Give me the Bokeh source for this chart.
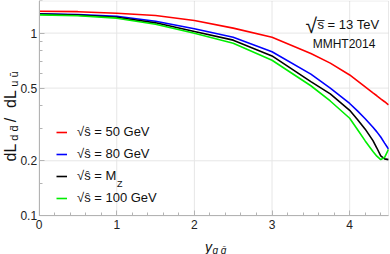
import numpy as np
from bokeh.plotting import figure
from bokeh.models import (Range1d, FixedTicker, Legend, LegendItem, Label,
                          NumeralTickFormatter, BoxAnnotation)
from bokeh.embed import file_html
from bokeh.resources import INLINE

# ---------------- data ----------------
y_rap = [0, 0.5, 1, 1.5, 2, 2.5, 3, 3.5, 3.75, 4, 4.1, 4.2, 4.3, 4.35, 4.4, 4.45, 4.5]
ratio_50 = [1.318, 1.31, 1.285, 1.248, 1.172, 1.065, 0.948, 0.773, 0.685, 0.59,
            0.548, 0.508, 0.471, 0.454, 0.437, 0.421, 0.405]
ratio_80 = [1.275, 1.265, 1.237, 1.162, 1.056, 0.948, 0.79, 0.596, 0.50, 0.412,
            0.375, 0.34, 0.305, 0.288, 0.27, 0.25, 0.232]
ratio_mz = [1.27, 1.255, 1.222, 1.138, 1.02, 0.915, 0.75, 0.543, 0.465, 0.378,
            0.337, 0.298, 0.258, 0.235, 0.213, 0.205, 0.203]
ratio_100 = [1.259, 1.245, 1.207, 1.119, 0.999, 0.88, 0.71, 0.515, 0.425, 0.342,
             0.297, 0.257, 0.225, 0.212, 0.203, 0.209, 0.231]

series_labels = ["√ŝ = 50 GeV", "√ŝ = 80 GeV", "√ŝ = M", "√ŝ = 100 GeV"]
series_colors = ["#ff0000", "#0000ff", "#000000", "#00ee00"]

x_major_ticks = [0, 1, 2, 3, 4]
x_minor_ticks = [0.2, 0.4, 0.6, 0.8, 1.2, 1.4, 1.6, 1.8, 2.2, 2.4, 2.6, 2.8,
                 3.2, 3.4, 3.6, 3.8, 4.2, 4.4]
y_major_ticks = [0.1, 0.2, 0.5, 1]
y_minor_ticks = [0.15, 0.3, 0.4, 0.6, 0.7, 0.8, 0.9, 1.5]
x_grid = [1, 2, 3, 4]
y_grid = [0.2, 0.5, 1]
x_lim = (0, 4.5)
y_lim = (0.1, 1.5)

FONT = "Liberation Sans"
TXT = "#111111"
AXC = "#b4b4b4"

# ---------------- layout: the frame fills the page, axes sit inside it ----------------
W, H = 390, 254
PX0, PX45 = 38.6, 388.0          # pixel x of x=0 and x=4.5
PY1, DEC = 32.6, 182.7           # pixel y of y=1, pixels per decade
sx = (PX45 - PX0) / (x_lim[1] - x_lim[0])
XA = x_lim[0] - PX0 / sx
XB = XA + W / sx
LB = PY1 / DEC
LA = (PY1 - H) / DEC


def dx(px):
    return XA + px / sx


def dy(py):
    return 10 ** ((PY1 - py) / DEC)


p = figure(width=W, height=H, output_backend="svg", toolbar_location=None,
           title=None, x_range=Range1d(XA, XB),
           y_range=Range1d(10 ** LA, 10 ** LB), y_axis_type="log",
           min_border=0, min_border_left=0, min_border_right=0,
           min_border_top=0, min_border_bottom=0)
p.background_fill_color = "white"
p.border_fill_color = "white"
p.outline_line_color = None
p.grid.visible = False

p.xaxis.fixed_location = y_lim[0]
p.yaxis.fixed_location = x_lim[0]
p.xaxis.bounds = x_lim
p.yaxis.bounds = y_lim
p.xaxis.ticker = FixedTicker(ticks=x_major_ticks, minor_ticks=x_minor_ticks)
p.yaxis.ticker = FixedTicker(ticks=y_major_ticks, minor_ticks=y_minor_ticks)
p.yaxis.formatter = NumeralTickFormatter(format="0.[0]")

for ax in (p.xaxis, p.yaxis):
    ax.axis_line_color = AXC
    ax.major_tick_line_color = AXC
    ax.minor_tick_line_color = AXC
    ax.major_tick_in = 5
    ax.major_tick_out = 0
    ax.minor_tick_in = 3
    ax.minor_tick_out = 0
    ax.major_label_text_font = FONT
    ax.major_label_text_font_size = "12px"
    ax.major_label_text_color = "#222222"
p.xaxis.major_label_standoff = 4
p.yaxis.major_label_standoff = 2

# grid lines limited to the plot box
p.multi_line(xs=[[g, g] for g in x_grid], ys=[list(y_lim)] * len(x_grid),
             line_color="#e6e6e6", line_width=1, level="underlay")
p.multi_line(xs=[list(x_lim)] * len(y_grid), ys=[[g, g] for g in y_grid],
             line_color="#e6e6e6", line_width=1, level="underlay")

# frame box
p.add_layout(BoxAnnotation(left=x_lim[0], right=x_lim[1], bottom=y_lim[0],
                           top=y_lim[1], fill_alpha=0, line_color=AXC,
                           line_width=1))

series = [ratio_50, ratio_80, ratio_mz, ratio_100]
renderers = []
for ys, c in zip(series, series_colors):
    r = p.line(y_rap, ys, line_color=c, line_width=1.6)
    renderers.append(r)

ROW = 22
legend = Legend(items=[LegendItem(label=l, renderers=[r])
                       for l, r in zip(series_labels, renderers)],
                location=(56, H - 208.5), padding=0, margin=0, spacing=0,
                glyph_width=11, glyph_height=ROW, label_height=ROW,
                label_standoff=10, label_text_font=FONT,
                label_text_font_size="13px", label_text_color=TXT,
                border_line_alpha=0, background_fill_alpha=0)
p.add_layout(legend)

# subscript Z of M_Z
p.add_layout(Label(x=dx(116.5), y=dy(183), text="Z", text_font=FONT,
                   text_font_size="9px", text_color=TXT,
                   text_baseline="alphabetic"))

# energy / PDF annotation (top right)
p.add_layout(Label(x=dx(305), y=dy(25), text="√", text_font=FONT,
                   text_font_size="21px", text_color=TXT,
                   text_baseline="alphabetic"))
p.add_layout(Label(x=dx(317), y=dy(24), text="s̅ = 13 TeV", text_font=FONT,
                   text_font_size="13px", text_color=TXT,
                   text_baseline="alphabetic"))
p.add_layout(Label(x=dx(343.5), y=dy(43.3), text="MMHT2014", text_font=FONT,
                   text_font_size="12px", text_color=TXT,
                   text_align="center", text_baseline="alphabetic"))

# x axis title  y_{q q̄}
p.add_layout(Label(x=dx(204.5), y=dy(246.5), text="y", text_font=FONT,
                   text_font_size="14px", text_font_style="italic",
                   text_color=TXT, text_baseline="alphabetic"))
p.add_layout(Label(x=dx(212), y=dy(249.5), text="q q̄", text_font=FONT,
                   text_font_size="10px", text_font_style="italic",
                   text_color=TXT, text_baseline="alphabetic"))

# y axis title  dL_{d d̄} / dL_{u ū}  (rotated; centre of each piece)
ypieces = [("dL", 152, 9.5, "16px"), ("d d̄", 132.5, 13, "11px"),
           ("/", 119.5, 9.5, "16px"), ("dL", 98.5, 9.5, "16px"),
           ("u ū", 78.5, 13, "11px")]
for txt, py, px, fs in ypieces:
    p.add_layout(Label(x=dx(px), y=dy(py), text=txt, text_font=FONT,
                       text_font_size=fs, text_color=TXT,
                       angle=np.pi / 2, text_align="center",
                       text_baseline="middle"))

open("out.html", "w").write(file_html(p, INLINE))
